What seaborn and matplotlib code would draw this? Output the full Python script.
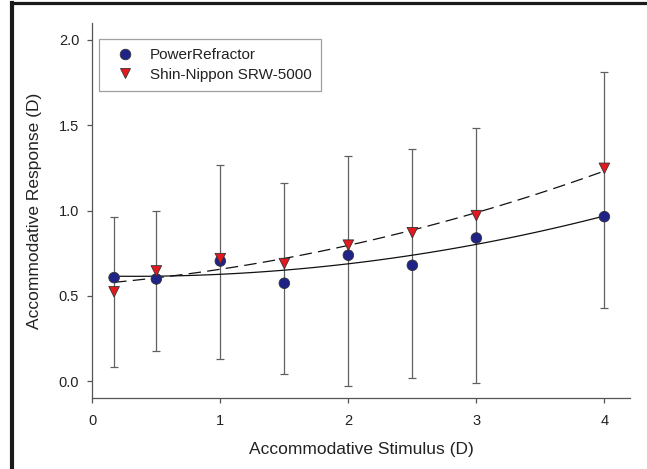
import numpy as np
import pandas as pd
import seaborn as sns
import matplotlib.pyplot as plt
from matplotlib.lines import Line2D

# ---- data ----
stimulus = [0.17, 0.5, 1.0, 1.5, 2.0, 2.5, 3.0, 4.0]
power_refractor = [0.607, 0.599, 0.704, 0.574, 0.738, 0.679, 0.839, 0.964]
shin_nippon = [0.524, 0.646, 0.718, 0.689, 0.797, 0.870, 0.970, 1.247]
bar_upper = [0.964, 0.995, 1.267, 1.161, 1.322, 1.358, 1.481, 1.813]
bar_lower = [0.084, 0.176, 0.130, 0.045, -0.025, 0.019, -0.010, 0.431]
series_names = ["PowerRefractor", "Shin-Nippon SRW-5000"]
x_ticks = [0, 1, 2, 3, 4]
y_ticks = [0.0, 0.5, 1.0, 1.5, 2.0]

sns.set_theme(style="ticks")
plt.rcParams['font.family'] = ['Liberation Sans', 'DejaVu Sans']
plt.rcParams['text.color'] = '#222222'

df = pd.DataFrame({
    "stimulus": stimulus * 2,
    "response": power_refractor + shin_nippon,
    "device": [series_names[0]] * len(stimulus) + [series_names[1]] * len(stimulus),
})

fig = plt.figure(figsize=(6.47, 4.69), dpi=100)
ax = fig.add_axes([0.1427, 0.1507, 0.8310, 0.8009])

pr = np.array(power_refractor)
up = np.array(bar_upper)
lo = np.array(bar_lower)
ax.errorbar(stimulus, pr, yerr=[pr - lo, up - pr], fmt='none', ecolor='#606060',
            elinewidth=0.9, capsize=2.8, capthick=0.9, zorder=1)

sns.regplot(x=stimulus, y=power_refractor, order=2, ci=None, scatter=False,
            truncate=True, ax=ax, line_kws=dict(color='#111111', lw=0.9, zorder=2))
sns.regplot(x=stimulus, y=shin_nippon, order=2, ci=None, scatter=False,
            truncate=True, ax=ax, line_kws=dict(color='#111111', lw=0.9,
                                                linestyle=(0, (10, 5)), zorder=2))

sns.scatterplot(data=df, x="stimulus", y="response", hue="device", style="device",
                hue_order=series_names, style_order=series_names,
                palette={series_names[0]: '#1f2388', series_names[1]: '#e3191e'},
                markers={series_names[0]: 'o', series_names[1]: 'v'},
                s=58, edgecolor='#333333', linewidth=0.6, ax=ax, zorder=3,
                legend=True)

ax.set_xlim(0, 4.2)
ax.set_ylim(-0.1, 2.1)
ax.set_xticks(x_ticks)
ax.set_xticklabels([str(t) for t in x_ticks])
ax.set_yticks(y_ticks)
ax.set_yticklabels([f"{t:.1f}" for t in y_ticks])
ax.tick_params(axis='both', labelsize=10.5, length=3.5, width=0.9, color='#555555',
               labelcolor='#222222')
ax.tick_params(axis='x', pad=8)
ax.tick_params(axis='y', pad=6)
for side in ['left', 'bottom']:
    ax.spines[side].set_color('#555555')
    ax.spines[side].set_linewidth(0.9)
sns.despine(ax=ax)

ax.set_xlabel("Accommodative Stimulus (D)", fontsize=12.5, labelpad=10, color='#222222')
ax.set_ylabel("Accommodative Response (D)", fontsize=12.5, labelpad=12, color='#222222')

handles, labels = ax.get_legend_handles_labels()
leg = ax.legend(handles, labels, loc='upper left', bbox_to_anchor=(0.013, 0.956),
                borderaxespad=0, fontsize=11, frameon=True, fancybox=False,
                edgecolor='#888888', borderpad=0.6, handlelength=2.2,
                handletextpad=0.5, labelspacing=0.35)
leg.get_frame().set_linewidth(0.9)

# figure frame (top and left edges visible in reference)
fig.add_artist(Line2D([11.5 / 647, 11.5 / 647], [0, 1 - 3.3 / 469], color='#1a1a1a', lw=3,
                      transform=fig.transFigure, solid_capstyle='projecting'))
fig.add_artist(Line2D([11.5 / 647, 1], [1 - 3.3 / 469, 1 - 3.3 / 469], color='#1a1a1a', lw=2.3,
                      transform=fig.transFigure, solid_capstyle='projecting'))

fig.savefig("out.png", dpi=100)
